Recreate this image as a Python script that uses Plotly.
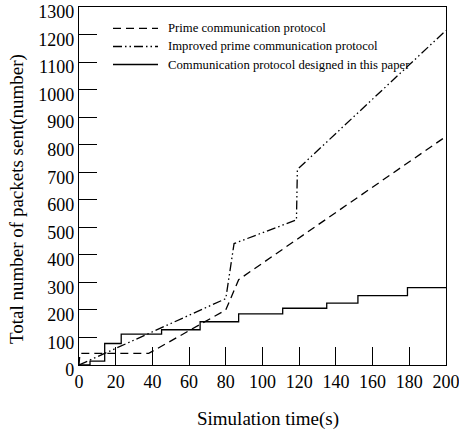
import plotly.graph_objects as go

# Data
prime_x = [0, 0.5, 38, 80, 87, 200]
prime_y = [0, 42, 42, 200, 310, 830]

improved_x = [0, 80, 84.5, 118.5, 119, 200]
improved_y = [0, 241, 441, 527, 710, 1215]

designed_x = [0, 6, 6, 14, 14, 23, 23, 45, 45, 66, 66, 87, 87, 111, 111, 135, 135, 152, 152, 179, 179, 200]
designed_y = [0, 0, 14, 14, 78, 78, 112, 112, 128, 128, 157, 157, 186, 186, 206, 206, 225, 225, 252, 252, 281, 281]

series_names = [
    "Prime communication protocol",
    "Improved prime communication protocol",
    "Communication protocol designed in this paper",
]

x_ticks = list(range(0, 201, 20))
y_ticks = list(range(0, 1301, 100))

SERIF = "Liberation Serif, DejaVu Serif, serif"
dashes = ["8px,5px", "9px,3px,1.5px,3px,1.5px,3px", "solid"]

W, H = 459, 434
L, R, T, B = 79, 13, 7, 69
PW, PH = W - L - R, H - T - B


def px_to_paper_x(px):
    return (px - L) / PW


def px_to_paper_y(py):
    return (H - B - py) / PH


fig = go.Figure()
for xs, ys, name, dash in [(prime_x, prime_y, series_names[0], dashes[0]),
                           (improved_x, improved_y, series_names[1], dashes[1]),
                           (designed_x, designed_y, series_names[2], dashes[2])]:
    fig.add_trace(go.Scatter(x=xs, y=ys, mode="lines", name=name, showlegend=False,
                             line=dict(color="black", width=1.3, dash=dash)))

# Legend drawn manually to match the reference spacing
legend_rows_py = [28.3, 46.5, 64.5]
for name, dash, py in zip(series_names, dashes, legend_rows_py):
    fig.add_shape(type="line", xref="paper", yref="paper",
                  x0=px_to_paper_x(113), x1=px_to_paper_x(158),
                  y0=px_to_paper_y(py), y1=px_to_paper_y(py),
                  line=dict(color="black", width=1.3, dash=dash))
    fig.add_annotation(xref="paper", yref="paper", x=px_to_paper_x(166), y=px_to_paper_y(py),
                       xanchor="left", yanchor="middle", showarrow=False, text=name,
                       font=dict(family=SERIF, size=12.7, color="black"))

axis_font = dict(family=SERIF, size=18, color="black")

# Axis titles
fig.add_annotation(xref="paper", yref="paper", x=px_to_paper_x(267.5), y=px_to_paper_y(419),
                   xanchor="center", yanchor="middle", showarrow=False, text="Simulation time(s)",
                   font=dict(family=SERIF, size=19, color="black"))
fig.add_annotation(xref="paper", yref="paper", x=px_to_paper_x(17), y=px_to_paper_y(199),
                   xanchor="center", yanchor="middle", showarrow=False, textangle=-90,
                   text="Total number of packets sent(number)",
                   font=dict(family=SERIF, size=19, color="black"))

fig.update_layout(
    width=W, height=H,
    margin=dict(l=L, r=R, t=T, b=B, autoexpand=False),
    paper_bgcolor="white", plot_bgcolor="white",
    showlegend=False,
    font=axis_font,
)
fig.update_xaxes(range=[0, 200], tickvals=x_ticks, ticktext=[str(v) for v in x_ticks],
                 ticks="inside", ticklen=18, tickwidth=1.3, tickcolor="black",
                 showline=True, linecolor="black", linewidth=1.3, mirror=True,
                 showgrid=False, zeroline=False, tickfont=axis_font, ticklabeloverflow="allow",
                 automargin=False)
fig.update_yaxes(range=[0, 1300], tickvals=y_ticks, ticktext=[str(v) for v in y_ticks],
                 ticks="inside", ticklen=18, tickwidth=1.3, tickcolor="black",
                 showline=True, linecolor="black", linewidth=1.3, mirror=True,
                 showgrid=False, zeroline=False, tickfont=axis_font, ticklabeloverflow="allow",
                 ticklabelshift=5, automargin=False)

fig.write_html("out.html")
